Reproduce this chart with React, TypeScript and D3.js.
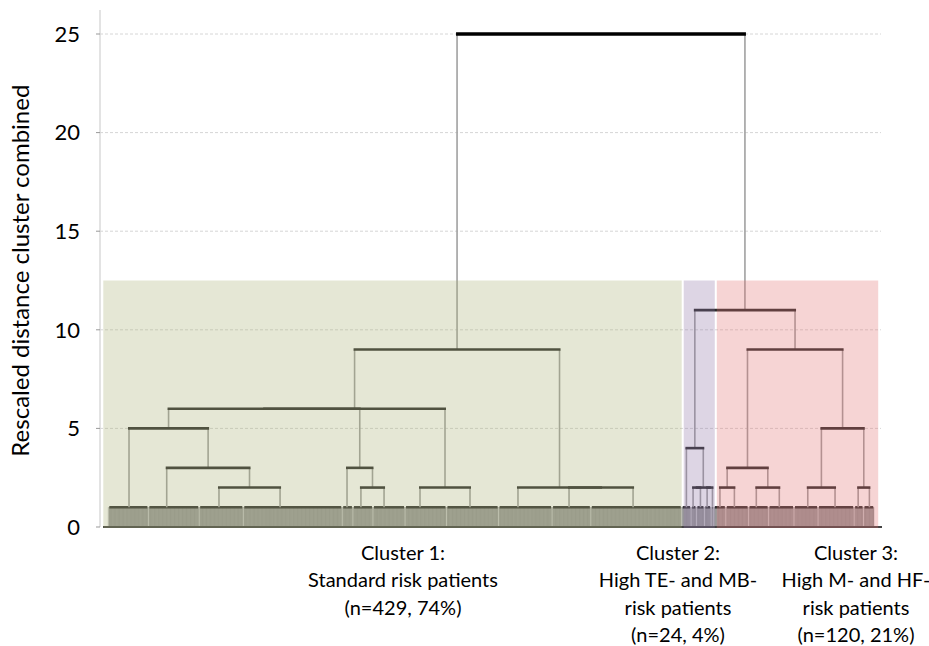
import * as d3 from "d3";

const W = 929, H = 646;

// leaf counts per cluster (left to right)
const clusterSizes = [429, 24, 120];
const clusterTitles = ["Cluster 1:", "Cluster 2:", "Cluster 3:"];
const clusterLines = [
  ["Standard risk patients", "(n=429, 74%)"],
  ["High TE- and MB-", "risk patients", "(n=24, 4%)"],
  ["High M- and HF-", "risk patients", "(n=120, 21%)"],
];
const yTicks = [0, 5, 10, 15, 20, 25];
const cutHeight = 12.5;

// leaf blocks merged at the lowest level: [id, first leaf, last leaf, leaf where the link attaches]
const leafBlocks: [string, number, number, number][] = [
  ["b1", 0, 30, 15.5], ["b2", 30, 68, 43.7], ["b3", 68, 101, 82.8], ["b4", 101, 175, 128.5],
  ["b5", 175, 183, 178.6], ["b6", 183, 198, 189], ["b7", 198, 222, 206.3], ["b8", 222, 253, 233.2],
  ["b9", 253, 292, 270.6], ["b10", 292, 332, 306.5], ["b11", 332, 361, 344.7], ["b12", 361, 429, 392.6],
  ["q1", 429, 436, 432.5], ["q2", 436, 440, 437.5], ["q3", 440, 446, 443], ["q4", 446, 451, 448],
  ["q5", 451, 453, 452],
  ["r1", 453, 462, 457.6], ["r2", 462, 479, 468.4], ["r3", 479, 494, 484.8], ["r4", 494, 513, 502],
  ["r5", 513, 531, 523.3], ["r6", 531, 558, 543.7], ["r7", 558, 565, 561], ["r8", 565, 573, 569.4],
];
const leafHeight = 1;

// merges: [new node, child a, child b, rescaled distance]
const merges: [string, string, string, number][] = [
  ["n1", "b3", "b4", 2], ["n2", "b2", "n1", 3], ["n3", "b1", "n2", 5],
  ["n4", "b6", "b7", 2], ["n5", "b5", "n4", 3], ["n6", "n3", "n5", 6],
  ["n7", "b8", "b9", 2], ["n8", "n6", "n7", 6],
  ["n9", "b11", "b12", 2], ["n10", "b10", "n9", 2], ["n11", "n8", "n10", 9],
  ["m1", "q2", "q3", 2], ["m2", "q4", "q5", 2], ["m3", "m1", "m2", 2], ["m4", "q1", "m3", 4],
  ["p1", "r1", "r2", 2], ["p2", "r3", "r4", 2], ["p3", "p1", "p2", 3],
  ["p4", "r5", "r6", 2], ["p5", "r7", "r8", 2], ["p6", "p4", "p5", 5], ["p7", "p3", "p6", 9],
  ["p8", "m4", "p7", 11],
  ["root", "n11", "p8", 25],
];

const clusterFill = ["rgba(168,175,115,0.3)", "rgba(142,115,165,0.3)", "rgba(225,112,112,0.3)"];
const font = "Lato, 'Open Sans', sans-serif";

export default function App() {
  const total = d3.sum(clusterSizes);
  const x = d3.scaleLinear().domain([0, total]).range([108.3, 874.2]);
  const y = d3.scaleLinear().domain([0, 25]).range([527, 34]);

  const pos = new Map<string, { x: number; h: number }>();
  leafBlocks.forEach(([id, , , j]) => pos.set(id, { x: j, h: leafHeight }));
  merges.forEach(([id, a, b, h]) => {
    pos.set(id, { x: (pos.get(a)!.x + pos.get(b)!.x) / 2, h });
  });

  const starts = d3.cumsum([0, ...clusterSizes]);
  const leaves = d3.range(total);

  return (
    <svg width={W} height={H} style={{ position: "absolute", left: 0, top: 0, background: "#fff" }}>
      {/* grid */}
      {yTicks.filter((t) => t > 0).map((t) => (
        <line key={t} x1={100} x2={881} y1={y(t)} y2={y(t)} stroke="#d6d6d6" strokeWidth={1} strokeDasharray="3,2" />
      ))}
      <line x1={100} x2={100} y1={10} y2={y(0)} stroke="#dadada" strokeWidth={1.5} />
      {yTicks.map((t) => (
        <g key={t}>
          <line x1={96} x2={100} y1={y(t)} y2={y(t)} stroke="#999" />
          <text x={80} y={y(t)} dy="0.35em" textAnchor="end" fontSize={22} fontFamily={font} fill="#000">{t}</text>
        </g>
      ))}
      <text transform={`translate(29,${y(13.0)}) rotate(-90)`} textAnchor="middle" fontSize={24} fontFamily={font} fill="#000">
        Rescaled distance cluster combined
      </text>

      {/* leaf band */}
      <rect x={x(0)} width={x(total) - x(0)} y={y(leafHeight)} height={y(0) - y(leafHeight)} fill="#a6a6a6" />
      {leaves.map((i) => (
        <line key={i} x1={x(i + 0.5)} x2={x(i + 0.5)} y1={y(leafHeight)} y2={y(0)} stroke="#8c8c8c" strokeWidth={0.7} />
      ))}
      {leafBlocks.map(([id, s, e]) => (
        <g key={id}>
          <line x1={x(s)} x2={x(s)} y1={y(leafHeight)} y2={y(0)} stroke="#c8c8c8" strokeWidth={1} />
          <line x1={x(s) + 1} x2={x(e) - 1} y1={y(leafHeight)} y2={y(leafHeight)} stroke="#2e2e2e" strokeWidth={2.5} />
        </g>
      ))}
      <line x1={103} x2={882} y1={y(0)} y2={y(0)} stroke="#444" strokeWidth={2} />

      {/* dendrogram links */}
      {merges.map(([id, a, b, h]) => {
        const pa = pos.get(a)!, pb = pos.get(b)!;
        return (
          <g key={id}>
            <line x1={x(pa.x)} x2={x(pa.x)} y1={y(h)} y2={y(pa.h)} stroke="#a0a0a0" strokeWidth={1.6} />
            <line x1={x(pb.x)} x2={x(pb.x)} y1={y(h)} y2={y(pb.h)} stroke="#a0a0a0" strokeWidth={1.6} />
          </g>
        );
      })}
      {merges.map(([id, a, b, h]) => (
        <line key={id} x1={x(pos.get(a)!.x) - 1} x2={x(pos.get(b)!.x) + 1} y1={y(h)} y2={y(h)}
          stroke={id === "root" ? "#000" : "#2a2a2a"} strokeWidth={id === "root" ? 3.5 : 2.6} />
      ))}

      {/* cluster shading */}
      {clusterSizes.map((n, k) => {
        const x0 = k === 0 ? x(starts[k]) - 5 : x(starts[k]) + 1 + k;
        const x1 = k === 2 ? x(starts[k + 1]) + 4 : x(starts[k + 1]) + k;
        return <rect key={k} x={x0} width={x1 - x0} y={y(cutHeight)} height={y(0) - y(cutHeight) + 1} fill={clusterFill[k]} />;
      })}

      {/* cluster labels */}
      {clusterTitles.map((t, k) => {
        const cx = [403, 678, 856][k];
        return (
          <text key={k} x={cx} y={560} textAnchor="middle" fontSize={20} fontFamily={font} fill="#000">
            <tspan x={cx}>{t}</tspan>
            {clusterLines[k].map((l, j) => (
              <tspan key={j} x={cx} dy={27.3}>{l}</tspan>
            ))}
          </text>
        );
      })}
    </svg>
  );
}
